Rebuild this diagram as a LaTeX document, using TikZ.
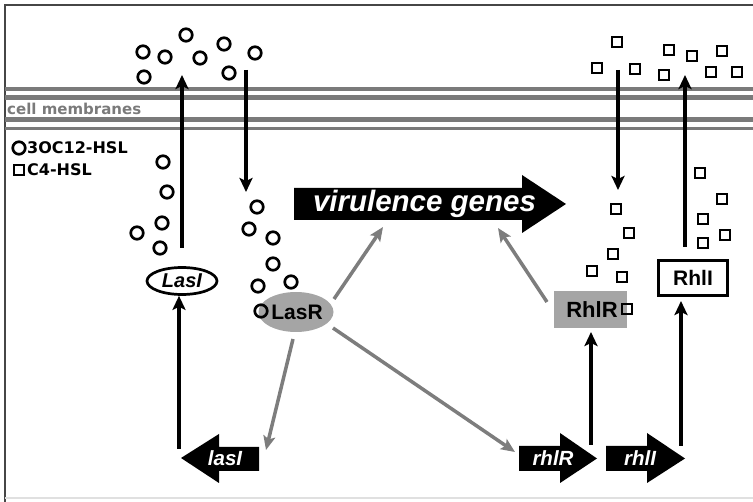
\documentclass[tikz,border=0pt]{standalone}
\usepackage{fontspec}
\setmainfont{Liberation Sans}
\newfontfamily\dejavu{DejaVu Sans}
\usetikzlibrary{arrows.meta,shapes.geometric}
\definecolor{memgray}{RGB}{122,122,122}
\definecolor{nodegray}{RGB}{165,165,165}
\definecolor{arrgray}{RGB}{125,125,125}
\definecolor{framegray}{RGB}{70,70,70}
\begin{document}
\begin{tikzpicture}[x=1pt,y=-1pt,
  mol/.style={circle,draw,line width=2.7pt,minimum size=12.5pt,inner sep=0pt},
  sq/.style={rectangle,draw,line width=2.1pt,minimum size=10pt,inner sep=0pt},
  blkarrow/.style={line width=3.8pt,-{Stealth[length=14pt,width=13pt,inset=3pt]}},
  grayarrow/.style={draw=arrgray,line width=3.5pt,-{Stealth[length=14pt,width=12pt,inset=3pt]}},
  mem/.style={draw=memgray,line width=4pt},
  genelabel/.style={text=white,inner sep=0pt,font=\fontsize{20.5}{20.5}\selectfont\bfseries\itshape},
  boxlabel/.style={inner sep=0pt,font=\fontsize{21}{21}\selectfont\bfseries}]
\useasboundingbox (0,0) rectangle (753,502);
% frame
\draw[framegray,line width=1.4pt] (5,502) -- (5,5) -- (753,5);
\draw[black!12,line width=1.2pt] (5,498) -- (753,498);
% membranes
\draw[mem,line width=3.5pt] (5,89) -- (753,89);
\draw[mem,line width=4.5pt] (5,97.5) -- (753,97.5);
\draw[mem,line width=4.5pt] (5,119.5) -- (753,119.5);
\draw[mem,line width=3.5pt] (5,128.5) -- (753,128.5);
\node[anchor=west,inner sep=0pt,text=memgray,font=\dejavu\fontsize{15}{15}\selectfont\bfseries] (memlabel) at (7,108.5) {cell membranes};
% legend
\node[mol] (legc) at (19,148) {};
\node[anchor=west,inner sep=0pt,font=\dejavu\fontsize{16}{16}\selectfont\bfseries] (legct) at (27,148) {3OC12-HSL};
\node[sq] (legs) at (19,170) {};
\node[anchor=west,inner sep=0pt,font=\dejavu\fontsize{16}{16}\selectfont\bfseries] (legst) at (27,170) {C4-HSL};
% circles (3OC12-HSL)
\foreach \p [count=\i] in {(143,52),(165,57),(186,35),(200,58),(224,44),(255,53),(144,77),(229,73),
  (163,162),(167,192),(162,223),(137,233),(160,248),
  (257,207),(249,229),(273,238),(273,264),(258,286),(291,282)}
  \node[mol] (c\i) at \p {};
% squares (C4-HSL)
\foreach \p [count=\i] in {(617,42),(597,68),(635,69),(669,50),(692,56),(722,51),(664,75),(711,72),(737,72),
  (616,209),(629,233),(613,254),(592,271),(622,277),
  (700,173),(722,199),(703,219),(725,235),(703,243)}
  \node[sq] (s\i) at \p {};
% proteins
\node[ellipse,draw,line width=2.7pt,minimum width=70pt,minimum height=27pt,inner sep=0pt,
  font=\fontsize{20}{20}\selectfont\bfseries\itshape] (LasI) at (182,281) {LasI};
\node[ellipse,fill=nodegray,minimum width=75pt,minimum height=40pt,inner sep=0pt] (LasR) at (296,312) {};
\node[boxlabel] (LasRt) at (297,312) {LasR};
\node[mol] (cR) at (261,311) {};
\node[rectangle,fill=nodegray,minimum width=73pt,minimum height=37pt,inner sep=0pt] (RhlR) at (590.5,309.5) {};
\node[boxlabel,font=\fontsize{22}{22}\selectfont\bfseries] (RhlRt) at (592,310) {RhlR};
\node[sq] (sR) at (627,309) {};
\node[rectangle,draw,line width=3pt,minimum width=69pt,minimum height=35pt,inner sep=0pt,
  font=\fontsize{21}{21}\selectfont\bfseries] (RhlI) at (693,278) {RhlI};
% virulence genes arrow
\fill (294,188) -- (522,188) -- (522,175) -- (566,204) -- (522,233) -- (522,220) -- (294,220) -- cycle;
\node[anchor=base,text=white,inner sep=0pt,font=\fontsize{29.5}{29.5}\selectfont\bfseries\itshape] (vg) at (424.5,212) {virulence genes};
\coordinate (vgL) at (383,227);
\coordinate (vgR) at (498,228);
% gene arrows
\fill (181,458) -- (219,434) -- (219,447) -- (259,447) -- (259,471) -- (219,471) -- (219,483) -- cycle;
\node[genelabel] (lasIg) at (225,458) {lasI};
\fill (519,446) -- (560,446) -- (560,433) -- (597,458.5) -- (560,483) -- (560,471) -- (519,471) -- cycle;
\node[genelabel] (rhlRg) at (553,458.5) {rhlR};
\fill (606,446) -- (647,446) -- (647,433) -- (685,458.5) -- (647,483) -- (647,471) -- (606,471) -- cycle;
\node[genelabel] (rhlIg) at (640,458.5) {rhlI};
% black connectors
\coordinate (lasIgt) at (179,449);
\draw[blkarrow] (lasIgt) -- (lasIgt |- LasI.south);
\coordinate (outL0) at (182,248);
\coordinate (outL1) at (182,75);
\draw[blkarrow] (outL0) -- (outL1);
\coordinate (inL0) at (246,70);
\coordinate (inL1) at (246,192);
\draw[blkarrow] (inL0) -- (inL1);
\coordinate (inR0) at (618,70);
\coordinate (inR1) at (618,190);
\draw[blkarrow] (inR0) -- (inR1);
\coordinate (outR0) at (685,247);
\coordinate (outR1) at (685,75);
\draw[blkarrow] (outR0) -- (outR1);
\coordinate (rhlRgt) at (591,445);
\draw[blkarrow] (rhlRgt) -- (591,332);
\coordinate (rhlIgt) at (681,446);
\draw[blkarrow] (rhlIgt) -- (681,301);
% gray connectors
\coordinate (lasRb) at (293,339);
\coordinate (lasIgh) at (266,450);
\draw[grayarrow] (lasRb) -- (lasIgh);
\coordinate (lasRt) at (334,299);
\draw[grayarrow] (lasRt) -- (vgL);
\coordinate (lasRr) at (333,328);
\coordinate (rhlRgh) at (515,452);
\draw[grayarrow] (lasRr) -- (rhlRgh);
\coordinate (rhlRl) at (547,302);
\draw[grayarrow] (rhlRl) -- (vgR);
\end{tikzpicture}
\end{document}
